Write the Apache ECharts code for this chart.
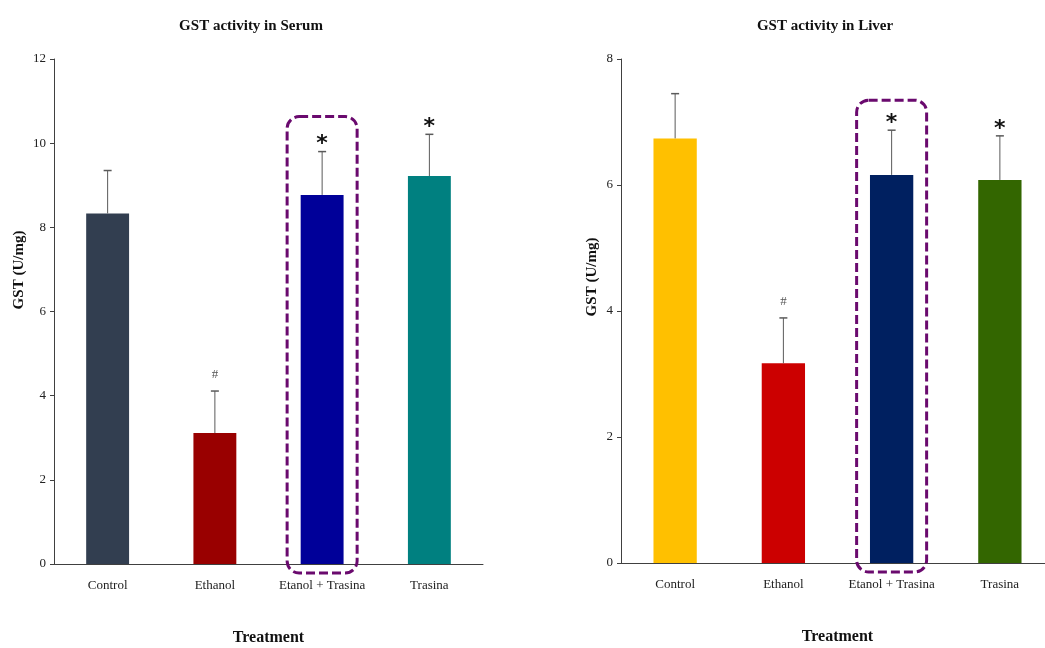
<!DOCTYPE html>
<html>
<head>
<meta charset="utf-8">
<script src="https://cdn.jsdelivr.net/npm/echarts@6/dist/echarts.min.js"></script>
<style>
  html, body { margin: 0; padding: 0; background: #fff; }
  #chart { width: 1045px; height: 648px; }
</style>
</head>
<body>
<div id="chart"></div>
<script>
const categories = ['Control', 'Ethanol', 'Etanol + Trasina', 'Trasina']

// GST activity in serum
const serumValues = [8.33, 3.11, 8.77, 9.22]
const serumErrors = [1.02, 1.0, 1.03, 0.99]
const serumMarks = ['', '#', '*', '*']
const serumTicks = [0, 2, 4, 6, 8, 10, 12]

// GST activity in liver
const liverValues = [6.74, 3.17, 6.16, 6.08]
const liverErrors = [0.71, 0.72, 0.71, 0.70]
const liverMarks = ['', '#', '*', '*']
const liverTicks = [0, 2, 4, 6, 8]

const serumColors = ['#323e50', '#990000', '#000099', '#008080']
const liverColors = ['#ffc000', '#cc0000', '#002060', '#336600']

const FONT = '"Liberation Serif", "DejaVu Serif", serif'

const chart = echarts.init(document.getElementById('chart'))

function xAxis(gridIndex) {
  return {
    type: 'category',
    gridIndex: gridIndex,
    data: categories,
    axisLine: { lineStyle: { color: '#404040', width: 1 } },
    axisTick: { show: false },
    axisLabel: { interval: 0, color: '#222', fontFamily: FONT, fontSize: 13, margin: 15 },
    name: 'Treatment',
    nameLocation: 'middle',
    nameGap: 66,
    nameTextStyle: { color: '#111', fontFamily: FONT, fontSize: 16, fontWeight: 'bold' }
  }
}

function yAxis(gridIndex, ticks) {
  return {
    type: 'value',
    gridIndex: gridIndex,
    min: ticks[0],
    max: ticks[ticks.length - 1],
    interval: ticks[1] - ticks[0],
    splitLine: { show: false },
    axisLine: { show: true, lineStyle: { color: '#404040', width: 1 } },
    axisTick: { show: true, length: 4, lineStyle: { color: '#404040' } },
    axisLabel: { color: '#222', fontFamily: FONT, fontSize: 13, margin: 8 }
  }
}

function barSeries(idx, values, colors) {
  return {
    type: 'bar',
    xAxisIndex: idx,
    yAxisIndex: idx,
    barWidth: '40%',
    data: values.map((v, i) => ({ value: v, itemStyle: { color: colors[i] } })),
    z: 2
  }
}

function errorSeries(idx, values, errors, marks) {
  return {
    type: 'custom',
    xAxisIndex: idx,
    yAxisIndex: idx,
    z: 5,
    data: values.map((v, i) => [i, v, v + errors[i]]),
    renderItem(params, api) {
      const base = api.coord([api.value(0), api.value(1)])
      const top = api.coord([api.value(0), api.value(2)])
      const mark = marks[params.dataIndex]
      const children = [
        { type: 'line', shape: { x1: base[0], y1: base[1], x2: top[0], y2: top[1] },
          style: { stroke: '#5a5a5a', lineWidth: 1 } },
        { type: 'line', shape: { x1: top[0] - 4, y1: top[1], x2: top[0] + 4, y2: top[1] },
          style: { stroke: '#5a5a5a', lineWidth: 1.5 } }
      ]
      if (mark === '*') {
        children.push({ type: 'text', x: top[0], y: top[1] - 7,
          style: { text: '*', fill: '#111', font: 'bold 22px "DejaVu Sans", sans-serif',
            textAlign: 'center', textVerticalAlign: 'middle' } })
      } else if (mark === '#') {
        children.push({ type: 'text', x: top[0], y: top[1] - 16,
          style: { text: '#', fill: '#555', font: '13px ' + FONT,
            textAlign: 'center', textVerticalAlign: 'middle' } })
      }
      return { type: 'group', children: children }
    }
  }
}

const options = {
  backgroundColor: '#fff',
  animation: false,
  title: [
    { text: 'GST activity in Serum', left: 246, top: 14, textAlign: 'center',
      textStyle: { fontFamily: FONT, fontSize: 15, fontWeight: 'bold', color: '#111' } },
    { text: 'GST activity in Liver', left: 820, top: 14, textAlign: 'center',
      textStyle: { fontFamily: FONT, fontSize: 15, fontWeight: 'bold', color: '#111' } }
  ],
  grid: [
    { left: 54, top: 59, width: 429, height: 505, outerBoundsMode: 'none', containLabel: false },
    { left: 621, top: 59, width: 433, height: 504, outerBoundsMode: 'none', containLabel: false }
  ],
  xAxis: [xAxis(0), xAxis(1)],
  yAxis: [yAxis(0, serumTicks), yAxis(1, liverTicks)],
  series: [
    barSeries(0, serumValues, serumColors),
    errorSeries(0, serumValues, serumErrors, serumMarks),
    barSeries(1, liverValues, liverColors),
    errorSeries(1, liverValues, liverErrors, liverMarks)
  ]
}

chart.setOption(options)

// highlight box around the "Etanol + Trasina" group, placed from the axes
function highlightBox(gridIndex, values, errors, pad) {
  const i = 2
  const top = chart.convertToPixel({ gridIndex: gridIndex }, [i, values[i] + errors[i]])
  const zero = chart.convertToPixel({ gridIndex: gridIndex }, [i, 0])
  return {
    type: 'rect',
    shape: { x: top[0] - 35, y: top[1] - pad, width: 70, height: zero[1] + 9 - (top[1] - pad), r: 12 },
    style: { fill: 'none', stroke: '#6a0a6e', lineWidth: 3, lineDash: [9, 4] },
    z: 10
  }
}

chart.setOption({
  graphic: [
    highlightBox(0, serumValues, serumErrors, 35),
    highlightBox(1, liverValues, liverErrors, 30),
    { type: 'text', x: 19, y: 270, rotation: Math.PI / 2,
      style: { text: 'GST (U/mg)', fill: '#111', font: 'bold 15px ' + FONT,
        textAlign: 'center', textVerticalAlign: 'middle' } },
    { type: 'text', x: 592, y: 277, rotation: Math.PI / 2,
      style: { text: 'GST (U/mg)', fill: '#111', font: 'bold 15px ' + FONT,
        textAlign: 'center', textVerticalAlign: 'middle' } }
  ]
})
</script>
</body>
</html>
